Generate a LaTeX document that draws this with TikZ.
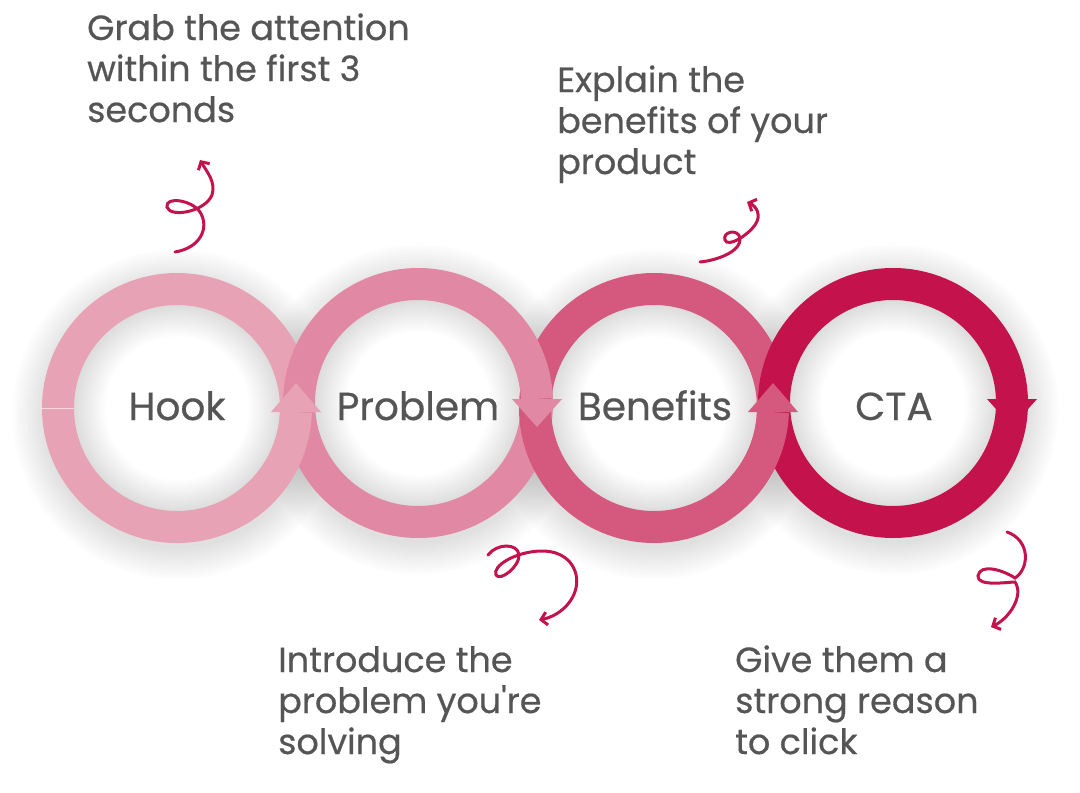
\documentclass[tikz,border=0pt]{standalone}
\usepackage{fontspec}
\newfontfamily\poppins{Poppins}[FakeBold=0.5]
\usetikzlibrary{positioning,
        arrows.meta,
        fadings}

\definecolor{hookcol}{HTML}{E8A2B6}
\definecolor{probcol}{HTML}{E088A4}
\definecolor{benecol}{HTML}{D5597F}
\definecolor{ctacol}{HTML}{C4134C}
\definecolor{textgray}{HTML}{555555}

\pgfdeclareradialshading{innerglow}{\pgfpointorigin}{color(0bp)=(white); color(17bp)=(white); color(25bp)=(black!14); color(50bp)=(black!14)}

\tikzset{
  ring/.style={line width=32pt},
  ringtext/.style={font=\poppins\fontsize{39}{46}\selectfont, text=textgray, inner sep=0pt, anchor=base},
  notetext/.style={font=\poppins\fontsize{35}{41}\selectfont, text=textgray, align=left, inner sep=0pt, anchor=base west},
  curl/.style={ctacol, line width=3pt, line cap=round, -{Straight Barb[length=6pt,width=13pt]}}
}

\begin{document}
\begin{tikzpicture}[x=1pt,y=-1pt]
            \useasboundingbox (0,0) rectangle (1080,793);
            \fill[white] (0,0) rectangle (1080,793);

            \coordinate (hookc) at (177,408);
            \coordinate (probc) at (418,403);
            \coordinate (benec) at (654,408);
            \coordinate (ctac) at (893,403);

            % shadows and white insides
            \foreach \c in {hookc,probc,benec,ctac} {
              \fill[black, opacity=.12, path fading=circle with fuzzy edge 20 percent] (\c) ++(0,6) circle (166);
            }
            \foreach \c in {hookc,probc,benec,ctac} {
              \shade[shading=innerglow] (\c) circle (104);
            }

            % the rings, each arrow part drawn again over the next ring
            \draw[ring, hookcol] (hookc) circle (119);
            \draw[white, opacity=.6, line width=.8pt] (hookc) ++(-135,0) -- ++(32,0);
            \draw[ring, probcol] (probc) circle (119);
            \draw[ring, hookcol] (hookc) ++(60:119) arc[start angle=60, end angle=2, radius=119];
            \fill[hookcol] (hookc) ++(94,4) -- ++(50,0) -- ++(-25,-29) -- cycle;

            \draw[ring, benecol] (benec) circle (119);
            \draw[ring, probcol] (probc) ++(-60:119) arc[start angle=-60, end angle=-2, radius=119];
            \fill[probcol] (probc) ++(94,-4) -- ++(50,0) -- ++(-25,28) -- cycle;

            \draw[ring, ctacol] (ctac) circle (119);
            \draw[ring, benecol] (benec) ++(60:119) arc[start angle=60, end angle=2, radius=119];
            \fill[benecol] (benec) ++(94,4) -- ++(50,0) -- ++(-25,-29) -- cycle;
            \fill[ctacol] (ctac) ++(94,-4) -- ++(50,0) -- ++(-25,28) -- cycle;

            \node[ringtext] (hook) at (177,420) {Hook};
            \node[ringtext] (problem) at (418,420) {Problem};
            \node[ringtext] (benefits) at (655,420) {Benefits};
            \node[ringtext] (cta) at (894,420) {CTA};

            % base anchor sits on the last line
            \node[notetext] (hooknote) at (87,122) {Grab the attention\\within the first 3\\seconds};
            \node[notetext] (benenote) at (557,174) {Explain the\\benefits of your\\product};
            \node[notetext] (probnote) at (278,754) {Introduce the\\problem you're\\solving};
            \node[notetext] (ctanote) at (735,754) {Give them a\\strong reason\\to click};

            % curly arrows
            \coordinate (hookcurlS) at (175,252);
            \coordinate (hookcurlE) at (200,160);
            \coordinate (benecurlS) at (700,262);
            \coordinate (benecurlE) at (747,202);
            \coordinate (probcurlS) at (488,555);
            \coordinate (probcurlE) at (539,620);
            \coordinate (ctacurlS) at (1007,532);
            \coordinate (ctacurlE) at (991,627);

            \draw[curl] (hookcurlS) .. controls (200,248) and (210,228) .. (200,212) .. controls (192,200) and (165,196) .. (167,207) .. controls (170,218) and (205,212) .. (212,195) .. controls (216,182) and (207,172) .. (hookcurlE);
            \draw[curl] (benecurlS) .. controls (720,260) and (742,250) .. (740,238) .. controls (738,228) and (722,232) .. (725,240) .. controls (728,248) and (748,235) .. (755,225) .. controls (762,215) and (756,206) .. (benecurlE);
            \draw[curl] (probcurlS) .. controls (497,543) and (518,543) .. (519,555) .. controls (520,566) and (500,582) .. (496,575) .. controls (492,566) and (515,552) .. (540,551) .. controls (568,550) and (580,570) .. (576,588) .. controls (572,606) and (555,617) .. (probcurlE);
            \draw[curl] (ctacurlS) .. controls (1030,540) and (1030,568) .. (1015,578) .. controls (1003,570) and (980,563) .. (978,576) .. controls (977,587) and (1008,582) .. (1015,582) .. controls (1024,595) and (1010,618) .. (ctacurlE);
        \end{tikzpicture}
\end{document}
